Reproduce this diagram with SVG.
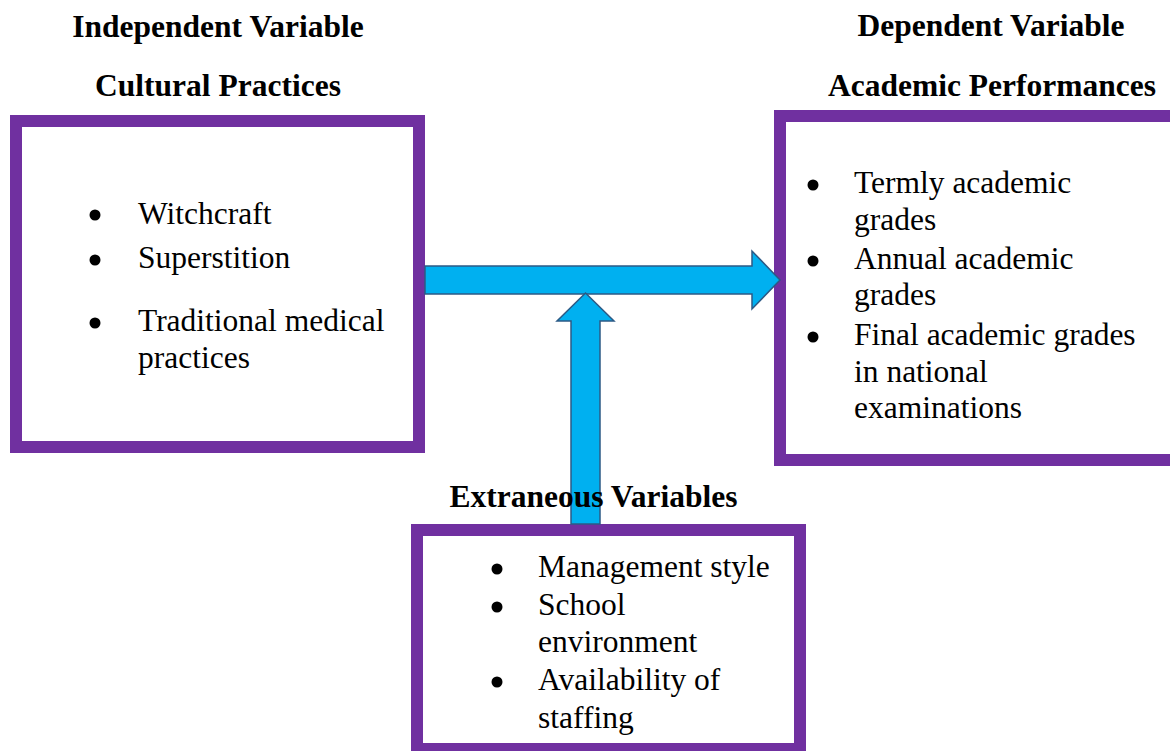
<svg xmlns="http://www.w3.org/2000/svg" width="1170" height="751" viewBox="0 0 1170 751">
<style>
.box{fill:#ffffff;stroke:#7030A0;stroke-width:12}
.title{font-family:"Liberation Serif","Times New Roman",serif;font-weight:bold;font-size:31.5px;fill:#000;text-anchor:middle}
.body{font-family:"Liberation Serif","Times New Roman",serif;font-size:31.5px;fill:#000}
.arrow{fill:#00B0F0;stroke:#2C5A85;stroke-width:1.5;stroke-linejoin:miter}
.dot{fill:#000}
</style>
<rect width="1170" height="751" fill="#ffffff"/>
<g id="labels">
<text class="title" x="218" y="37">Independent Variable</text>
<text class="title" x="218" y="96">Cultural Practices</text>
<text class="title" x="991" y="36">Dependent Variable</text>
<text class="title" x="992" y="96">Academic Performances</text>
</g>
<g id="independent">
<rect class="box" x="16" y="121" width="403" height="326"/>
<circle class="dot" cx="95" cy="215" r="5.5"/>
<text class="body" x="138" y="224">Witchcraft</text>
<circle class="dot" cx="95" cy="260" r="5.5"/>
<text class="body" x="138" y="268">Superstition</text>
<circle class="dot" cx="95" cy="323" r="5.5"/>
<text class="body" x="138" y="331">Traditional medical</text>
<text class="body" x="138" y="368">practices</text>
</g>
<g id="dependent">
<rect class="box" x="780" y="116" width="400" height="344"/>
<circle class="dot" cx="813" cy="185" r="5.5"/>
<text class="body" x="854" y="193">Termly academic</text>
<text class="body" x="854" y="230">grades</text>
<circle class="dot" cx="813" cy="261" r="5.5"/>
<text class="body" x="854" y="269">Annual academic</text>
<text class="body" x="854" y="305">grades</text>
<circle class="dot" cx="813" cy="337" r="5.5"/>
<text class="body" x="854" y="345">Final academic grades</text>
<text class="body" x="854" y="382">in national</text>
<text class="body" x="854" y="418">examinations</text>
</g>
<g id="extraneous">
<rect class="box" x="417" y="530" width="383" height="219"/>
<circle class="dot" cx="497" cy="569" r="5.5"/>
<text class="body" x="538" y="577">Management style</text>
<circle class="dot" cx="497" cy="607" r="5.5"/>
<text class="body" x="538" y="615">School</text>
<text class="body" x="538" y="652">environment</text>
<circle class="dot" cx="497" cy="682" r="5.5"/>
<text class="body" x="538" y="690">Availability of</text>
<text class="body" x="538" y="728">staffing</text>
</g>
<g id="connectors">
<polygon class="arrow" points="425,266 752,266 752,251 780,280 752,309 752,294 425,294"/>
<polygon class="arrow" points="571,524 571,321 557,321 585.5,293 614,321 600,321 600,524"/>
</g>
<g id="extraneous-title">
<text class="title" x="593.5" y="507">Extraneous Variables</text>
</g>
</svg>
